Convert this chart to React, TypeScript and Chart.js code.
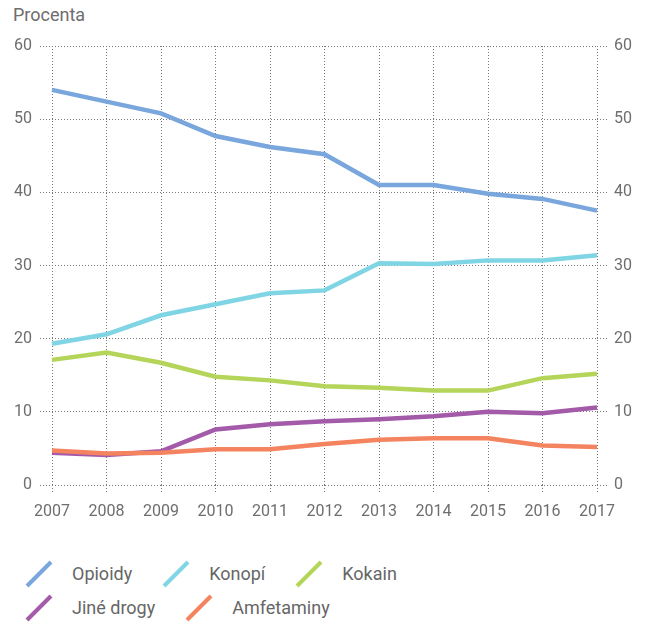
import React, { useEffect, useRef } from "react";
import { Chart, registerables } from "chart.js";

Chart.register(...registerables);

const years = ["2007", "2008", "2009", "2010", "2011", "2012", "2013", "2014", "2015", "2016", "2017"];
const opioidy = [54.0, 52.4, 50.8, 47.7, 46.2, 45.2, 41.0, 41.0, 39.8, 39.1, 37.5];
const konopi = [19.3, 20.6, 23.2, 24.7, 26.2, 26.6, 30.3, 30.2, 30.7, 30.7, 31.4];
const kokain = [17.1, 18.1, 16.7, 14.8, 14.3, 13.5, 13.3, 12.9, 12.9, 14.6, 15.2];
const jineDrogy = [4.4, 4.1, 4.6, 7.6, 8.3, 8.7, 9.0, 9.4, 10.0, 9.8, 10.6];
const amfetaminy = [4.7, 4.3, 4.4, 4.9, 4.9, 5.6, 6.2, 6.4, 6.4, 5.4, 5.2];
const yTicks = [0, 10, 20, 30, 40, 50, 60];

const seriesNames = ["Opioidy", "Konopí", "Kokain", "Jiné drogy", "Amfetaminy"];
const seriesData = [opioidy, konopi, kokain, jineDrogy, amfetaminy];
const seriesColors = ["#79a6dc", "#7fd5e3", "#b4d45a", "#a35aa8", "#f4845f"];
const legendRows = [[0, 1, 2], [3, 4]];

const FONT = "Roboto, 'Noto Sans', sans-serif";
const TEXT = "#6e6e6e";
const GRID = "#777777";

export default function App() {
  const canvasRef = useRef<HTMLCanvasElement | null>(null);

  useEffect(() => {
    const canvas = canvasRef.current;
    if (!canvas) return;
    const chart = new Chart(canvas, {
      type: "line",
      data: {
        labels: years,
        datasets: seriesData.map((d, i) => ({
          label: seriesNames[i],
          data: d,
          borderColor: seriesColors[i],
          backgroundColor: seriesColors[i],
          borderWidth: 4.5,
          pointRadius: 0,
          tension: 0,
          fill: false,
          order: i === 4 ? 0 : 1,
        })),
      },
      options: {
        animation: false,
        responsive: false,
        devicePixelRatio: 1,
        layout: { padding: { top: 46, left: 0, right: 0, bottom: 0 } },
        plugins: {
          legend: { display: false },
          tooltip: { enabled: false },
          title: { display: false },
        },
        scales: {
          x: {
            type: "category",
            offset: false,
            border: { display: false, dash: [1, 2] },
            grid: {
              color: GRID,
              lineWidth: 1,
              tickLength: 9,
              tickColor: GRID,
              tickBorderDash: [1, 2],
            },
            ticks: {
              color: TEXT,
              font: { family: FONT, size: 16 },
              padding: 8,
              maxRotation: 0,
              autoSkip: false,
            },
            afterFit: (s: any) => {
              s.height = 45;
            },
          },
          y: {
            position: "left",
            min: 0,
            max: 60,
            border: { display: false, dash: [1, 2] },
            grid: {
              color: GRID,
              lineWidth: 1,
              tickLength: 12,
              tickColor: GRID,
              tickBorderDash: [1, 2],
            },
            afterBuildTicks: (s: any) => {
              s.ticks = yTicks.map((v) => ({ value: v }));
            },
            ticks: {
              color: TEXT,
              font: { family: FONT, size: 16 },
              padding: 8,
            },
            afterFit: (s: any) => {
              s.width = 52;
            },
          },
          y2: {
            position: "right",
            min: 0,
            max: 60,
            border: { display: false, dash: [1, 2] },
            grid: {
              drawOnChartArea: false,
              color: GRID,
              lineWidth: 1,
              tickLength: 11,
              tickColor: GRID,
              tickBorderDash: [1, 2],
            },
            afterBuildTicks: (s: any) => {
              s.ticks = yTicks.map((v) => ({ value: v }));
            },
            ticks: {
              color: TEXT,
              font: { family: FONT, size: 16 },
              padding: 6,
            },
            afterFit: (s: any) => {
              s.width = 52;
            },
          },
        },
      },
    });
    return () => chart.destroy();
  }, []);

  return (
    <div style={{ position: "absolute", left: 0, top: 0, width: 649, height: 622, background: "#fff", fontFamily: FONT }}>
      <div style={{ position: "absolute", left: 13, top: 4, fontSize: 18, lineHeight: "22px", color: TEXT }}>Procenta</div>
      <canvas ref={canvasRef} width={649} height={530} style={{ position: "absolute", left: 0, top: 0, display: "block" }} />
      <div style={{ position: "absolute", left: 25, top: 560, width: 620 }}>
        {legendRows.map((row, ri) => (
          <div key={ri} style={{ display: "flex", alignItems: "center", height: 28, marginBottom: 6 }}>
            {row.map((idx) => (
              <div key={idx} style={{ display: "flex", alignItems: "center", marginRight: 30 }}>
                <svg width={28} height={28} style={{ display: "block", marginRight: 19, marginTop: -1 }}>
                  <line x1={2} y1={26} x2={26} y2={2} stroke={seriesColors[idx]} strokeWidth={4} />
                </svg>
                <span style={{ fontSize: 18, color: "#666", lineHeight: "22px" }}>{seriesNames[idx]}</span>
              </div>
            ))}
          </div>
        ))}
      </div>
    </div>
  );
}
